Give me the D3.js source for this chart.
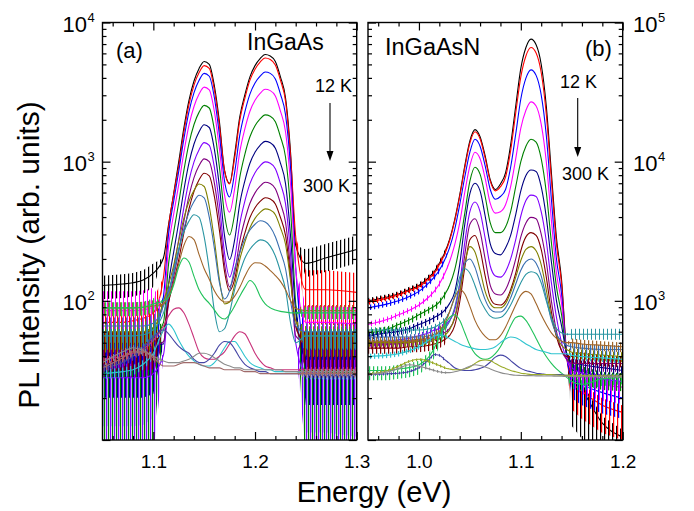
<!DOCTYPE html>
<html><head><meta charset="utf-8">
<script src="https://cdn.jsdelivr.net/npm/d3@7"></script>
<style>html,body{margin:0;padding:0;background:#fff;}svg{display:block;font-family:"Liberation Sans",Arial,Helvetica,sans-serif;}</style>
</head><body>
<script>
// ---------------- DATA: panel (a) InGaAs ----------------
const energyA = [1.05,1.07,1.08,1.09,1.10,1.11,1.115,1.12,1.125,1.13,1.135,1.14,1.145,1.15,1.155,1.16,1.165,1.17,1.175,1.18,1.185,1.19,1.195,1.20,1.205,1.21,1.215,1.22,1.225,1.23,1.235,1.24,1.25,1.27,1.30];
const a01 = [129,132,135,141,158,204,355,589,1000,1740,2750,3800,4680,5250,5010,3510,1930,870,700,1135,2100,3020,4070,4900,5500,5890,5750,5250,4070,2880,1150,250,186,204,234];
const a02 = [70,70,72,75,82,148,342,580,933,1620,2570,3550,4365,4900,4680,3275,1800,860,693,1065,1980,2850,3850,4620,5190,5560,5430,4950,3850,2720,1080,290,120,120,115];
const a03 = [50,50,50,51,57,108,303,519,853,1450,2280,3130,3840,4310,4110,2890,1550,727,558,840,1550,2280,3060,3670,4110,4410,4310,3930,3060,2180,890,175,45,45,42];
const a04 = [85,85,85,86,90,94,249,420,686,1160,1820,2490,3060,3430,3280,2300,1240,577,434,640,1175,1720,2305,2760,3095,3310,3240,2960,2305,1640,680,170,70,70,68];
const a05 = [50,50,50,50,54,70,185,312,509,862,1350,1850,2270,2540,2430,1700,915,417,297,423,771,1130,1510,1810,2030,2170,2120,1935,1510,1080,447,96,35,35,35];
const a06 = [45,45,45,45,48,49,132,224,367,623,975,1340,1640,1840,1760,1230,659,294,198,275,499,728,975,1170,1310,1400,1370,1250,975,696,289,83,40,40,40];
const a07 = [28,28,28,28,30,41,103,171,277,467,728,997,1220,1370,1310,911,492,221,148,201,359,521,696,833,932,997,975,891,696,499,211,50,30,30,30];
const a08 = [45,45,45,45,47,51,97,149,228,370,566,768,937,1047,1001,703,389,184,126,160,269,382,503,597,666,711,696,638,503,366,167,56,50,50,50];
const a09 = [50,50,50,50,51,62,98,137,198,307,457,612,742,826,791,563,321,163,118,143,224,307,397,467,518,551,540,497,397,295,148,65,50,50,50];
const a10 = [60,60,60,60,63,99,131,180,269,391,517,622,691,663,477,274,142,95,98,131,198,264,335,391,432,458,449,415,335,255,138,72,56,56,56];
const a11 = [66,66,66,66,69,92,118,158,230,329,432,517,573,550,399,239,135,103,118,170,222,279,323,355,376,369,339,289,226,170,99,66,60,60,60];
const a12 = [56,56,56,57,62,82,111,164,237,312,374,415,398,288,167,85,60,63,82,121,160,202,235,259,274,269,247,210,163,121,69,50,56,56,56];
const a13 = [89,89,89,90,92,95,110,135,185,250,290,275,215,170,143,118,104,98,99,108,125,150,175,188,187,178,165,152,138,120,100,88,85,85,85];
const a14 = [89,89,89,90,95,100,106,130,175,203,190,150,120,105,96,86,77,74,80,92,108,125,140,130,108,95,89,86,84,83,82,82,82,82,82];
const a15 = [30,31,32,35,42,62,68,62,52,45,40,37,35,34,34,36,40,46,51,51,46,40,36,34,33,32,32,31,31,31,31,31,30,30,30];
const a16 = [38,40,42,45,52,66,78,87,89,82,68,54,43,39,38,38,40,43,49,56,60,58,50,42,37,34,33,32,32,32,32,32,32,32,32];
const a17 = [33,36,40,46,55,62,58,52,47,44,42,38,36,36,38,42,48,51,50,45,39,35,33,32,31,31,30,30,30,30,30,30,30,29,29];
const a18 = [36,43,46,44,40,37,36,36,36,37,38,40,42,42,41,39,37,35,34,33,33,32,32,32,32,32,32,32,32,31,31,31,31,31,31];
const a19 = [33,39,43,43,39,34,34,34,35,36,36,36,35,34,33,33,33,32,32,32,32,31,31,31,30,30,30,30,30,30,30,30,30,30,30];
const seriesA = [a01,a02,a03,a04,a05,a06,a07,a08,a09,a10,a11,a12,a13,a14,a15,a16,a17,a18,a19];
// noise spread (log10: down, up), outside the clean window
const windowA = [1.105, 1.245];
const noiseDownLeftA  = [0.10,0.30,0.60,0.30,0.80,0.35,0.60,0.20,0.20,0.15,0.12,0.10,0.06,0.06,0.04,0.03,0.03,0.03,0.03];
const noiseUpLeftA    = [0.07,0.10,0.10,0.14,0.08,0.08,0.10,0.08,0.08,0.07,0.06,0.05,0.04,0.04,0.03,0.02,0.02,0.02,0.02];
const noiseDownRightA = [0.10,0.25,0.60,0.30,0.80,0.35,0.60,0.20,0.20,0.15,0.12,0.10,0.06,0.05,0.04,0.03,0.03,0.03,0.03];
const noiseUpRightA   = [0.10,0.14,0.10,0.12,0.08,0.08,0.10,0.08,0.08,0.07,0.06,0.05,0.04,0.04,0.03,0.02,0.02,0.02,0.02];

// ---------------- DATA: panel (b) InGaAsN ----------------
const energyB = [0.95,0.97,0.98,0.99,1.00,1.01,1.015,1.02,1.025,1.03,1.035,1.04,1.045,1.05,1.055,1.06,1.065,1.07,1.075,1.08,1.085,1.09,1.095,1.10,1.105,1.11,1.115,1.12,1.125,1.13,1.135,1.14,1.145,1.15,1.16,1.18,1.20];
const b01 = [1000,1070,1120,1200,1290,1480,1620,1860,2190,2750,3800,5750,9330,14100,17000,15100,11000,7410,6310,6920,8320,13200,25100,46800,66100,75900,69200,50100,25100,8320,2820,1410,417,282,229,132,105];
const b02 = [977,1050,1100,1180,1260,1450,1580,1820,2140,2690,3720,5620,9020,13600,16400,14600,10600,7240,6170,6610,7760,12000,22400,40700,57500,66100,60300,43700,21900,7410,2570,1320,398,263,224,178,158];
const b03 = [891,955,1000,1070,1170,1350,1480,1660,1950,2400,3240,4900,7760,11700,14500,12900,9330,6310,5370,5620,6310,9120,15800,28200,39800,45700,41700,30200,15500,5370,2000,1120,398,282,251,219,200];
const b04 = [676,741,794,851,933,1070,1170,1320,1550,1910,2510,3630,6030,9330,11700,10500,7590,5010,4270,4370,4900,6610,10500,17400,23400,26900,25100,18600,10000,3800,1580,955,398,316,282,251,240];
const b05 = [589,631,676,724,794,871,912,977,1100,1290,1660,2510,4270,7240,9120,8130,5620,3630,3090,3090,3390,4370,6610,10000,12900,14500,13800,10500,6030,2630,1260,794,417,355,316,288,282];
const b06 = [562,589,603,631,676,724,759,794,851,955,1150,1820,3550,5890,7000,6170,4070,2570,2190,2140,2400,2950,4170,6170,7940,8710,8510,6610,3980,1910,1000,661,417,363,347,331,316];
const b07 = [501,513,525,537,562,589,617,631,661,724,851,1320,2630,4370,5130,4370,2820,1780,1510,1480,1620,2000,2750,4070,5250,5750,5620,4370,2690,1350,759,501,380,331,302,275,263];
const b08 = [479,490,490,501,513,537,550,562,589,631,741,1120,2140,3550,3890,3160,2000,1290,1120,1100,1200,1480,2000,2880,3630,3980,3890,3020,1910,1000,603,437,380,355,355,355,355];
const b09 = [457,457,457,468,468,479,490,501,525,562,661,977,1740,2750,2950,2340,1510,1050,944,933,1000,1200,1580,2290,2880,3090,2950,2340,1480,832,550,437,398,398,398,380,372];
const b10 = [501,501,501,501,513,513,525,537,562,617,759,1150,1860,2450,2240,1660,1170,955,891,891,955,1150,1480,1950,2340,2450,2290,1820,1200,759,562,479,447,427,417,407,398];
const b11 = [550,550,550,550,550,562,575,589,631,708,891,1320,1860,2000,1740,1320,1020,871,832,832,891,1050,1320,1660,1910,2000,1860,1510,1050,724,575,513,479,468,457,447,447];
const b12 = [617,617,617,617,617,631,646,676,724,832,1070,1480,1700,1580,1290,1020,871,776,750,759,813,933,1120,1350,1550,1620,1580,1350,1000,759,631,589,575,575,575,575,575];
const b13 = [513,513,513,513,525,537,562,603,676,832,1050,1200,1120,912,724,617,556,525,525,562,646,776,933,1100,1170,1120,955,794,676,589,537,513,501,501,490,479,468];
const b14 = [316,316,324,331,347,398,457,550,661,759,794,724,589,479,417,389,380,389,417,468,550,661,759,776,724,631,537,457,398,355,324,302,282,263,251,275,282];
const b15 = [398,407,417,437,468,525,556,569,562,537,513,490,473,462,452,447,447,452,468,501,531,550,543,519,490,468,447,437,427,417,417,417,417,407,398,389,380];
const b16 = [295,299,302,309,331,380,412,407,380,355,331,320,316,316,320,327,339,363,394,407,398,372,347,327,316,309,302,299,295,295,295,295,292,292,292,290,290];
const b17 = [299,316,339,367,380,367,355,343,331,324,320,320,324,335,355,372,376,372,355,339,327,316,309,302,299,295,295,295,295,295,293,292,292,291,290,289,288];
const b18 = [295,309,327,347,339,324,316,309,305,305,309,316,327,339,347,343,335,324,313,305,299,295,292,291,290,290,289,289,288,288,287,287,286,286,285,285,285];
const seriesB = [b01,b02,b03,b04,b05,b06,b07,b08,b09,b10,b11,b12,b13,b14,b15,b16,b17,b18];
const windowB = [1.03, 1.145];
const noiseDownLeftB  = [0.02,0.02,0.02,0.02,0.03,0.03,0.03,0.03,0.04,0.03,0.03,0.03,0.04,0.07,0.02,0.01,0.01,0.01];
const noiseUpLeftB    = [0.02,0.02,0.02,0.02,0.02,0.02,0.02,0.02,0.03,0.02,0.02,0.02,0.03,0.03,0.02,0.01,0.01,0.01];
const noiseDownRightB = [0.35,0.20,0.15,0.12,0.10,0.06,0.08,0.06,0.05,0.04,0.04,0.04,0.04,0.05,0.03,0.01,0.01,0.01];
const noiseUpRightB   = [0.05,0.05,0.04,0.04,0.03,0.03,0.03,0.03,0.03,0.03,0.03,0.04,0.03,0.03,0.02,0.01,0.01,0.01];

// tick values
const xMajorA = [1.1,1.2,1.3], xMinorA = [1.06,1.08,1.12,1.14,1.16,1.18,1.22,1.24,1.26,1.28];
const xMajorB = [1.0,1.1,1.2], xMinorB = [0.96,0.98,1.02,1.04,1.06,1.08,1.12,1.14,1.16,1.18];
const yMajorA = [10,100,1000,10000], yLabelA = [100,1000,10000];
const yMajorB = [100,1000,10000,100000], yLabelB = [1000,10000,100000];

// ---------------- STYLE ----------------
const colorsA = ["#000000","#ff0000","#0000ff","#ff00ff","#008000","#000080","#8000ff","#800080","#800000","#808000","#3a6fb0","#2a95a2","#a0652a","#21c25a","#2fc4cf","#c8327a","#4545a5","#8c8c8c","#a06a6a"];
const colorsB = ["#000000","#ff0000","#0000ff","#ff00ff","#008000","#000080","#8000ff","#800080","#800000","#808000","#3a6fb0","#2a95a2","#a0652a","#21c25a","#2fc4cf","#4545a5","#9aab2a","#8c8c8c"];

const W=694,H=511,TOP=22.5,BOT=440;
const svg=d3.select('body').append('svg').attr('width',W).attr('height',H);

const panels=[
 {id:'pa', x:d3.scaleLinear().domain([1.05,1.30]).range([102.5,356.7]), y:d3.scaleLog().domain([10,1e4]).range([BOT,TOP]),
  E:energyA, S:seriesA, C:colorsA, ND:[noiseDownLeftA,noiseDownRightA], NU:[noiseUpLeftA,noiseUpRightA], win:windowA, xMaj:xMajorA, xMin:xMinorA, yMaj:yMajorA, yLab:yLabelA, labSide:'left'},
 {id:'pb', x:d3.scaleLinear().domain([0.95,1.20]).range([368,622.7]), y:d3.scaleLog().domain([100,1e5]).range([BOT,TOP]),
  E:energyB, S:seriesB, C:colorsB, ND:[noiseDownLeftB,noiseDownRightB], NU:[noiseUpLeftB,noiseUpRightB], win:windowB, xMaj:xMajorB, xMin:xMinorB, yMaj:yMajorB, yLab:yLabelB, labSide:'right'}
];

const defs=svg.append('defs');
panels.forEach(p=>{
  const [x0,x1]=p.x.range();
  defs.append('clipPath').attr('id','clip-'+p.id).append('rect').attr('x',x0).attr('y',TOP).attr('width',x1-x0).attr('height',BOT-TOP);
  const g=svg.append('g').attr('clip-path',`url(#clip-${p.id})`);
  const line=d3.line().x(d=>p.x(d.e)).y(d=>p.y(d.v)).curve(d3.curveMonotoneX);
  const band=d3.area().x(d=>p.x(d.e)).y0(d=>p.y(d.v/Math.pow(10,d.dn))).y1(d=>p.y(d.v*Math.pow(10,d.up)));
  p.S.forEach((vals,i)=>{
    // vertical-stripe pattern to suggest the noisy spikes
    const pid=`pat-${p.id}-${i}`;
    const pat=defs.append('pattern').attr('id',pid).attr('patternUnits','userSpaceOnUse').attr('width',4).attr('height',4);
    pat.append('rect').attr('x',i%4).attr('y',0).attr('width',1.2).attr('height',4).attr('fill',p.C[i]);
    const pts=p.E.map((e,j)=>{
      const side = e<p.win[0]?0:(e>p.win[1]?1:-1);
      return {e:e, v:vals[j], dn: side<0?0:p.ND[side][i], up: side<0?0:p.NU[side][i]};
    });
    g.append('path').attr('d',band(pts)).attr('fill',`url(#${pid})`).attr('stroke','none');
    g.append('path').attr('d',line(pts)).attr('fill','none').attr('stroke',p.C[i]).attr('stroke-width',1.1);
  });

  // axes (ticks inward)
  const ax=(gen,tr)=>{const a=svg.append('g').attr('transform',tr).call(gen); a.select('.domain').remove(); a.selectAll('line').attr('stroke','#000').attr('stroke-width',1.2); return a;};
  const bx=ax(d3.axisBottom(p.x).tickValues(p.xMaj).tickSize(-8).tickPadding(14.5).tickFormat(d3.format('.1f')),`translate(0,${BOT})`);
  bx.attr('font-size',19).attr('font-family','"Liberation Sans",Arial,sans-serif');
  bx.selectAll('text').attr('fill','#000');
  ax(d3.axisBottom(p.x).tickValues(p.xMin).tickSize(-4).tickFormat(''),`translate(0,${BOT})`);
  ax(d3.axisTop(p.x).tickValues(p.xMaj).tickSize(-8).tickFormat(''),`translate(0,${TOP})`);
  ax(d3.axisTop(p.x).tickValues(p.xMin).tickSize(-4).tickFormat(''),`translate(0,${TOP})`);
  const yMin=[]; p.yMaj.slice(0,-1).forEach(d=>{for(let k=2;k<=9;k++) yMin.push(k*d);});
  ax(d3.axisLeft(p.y).tickValues(p.yMaj).tickSize(-8).tickFormat(''),`translate(${x0},0)`);
  ax(d3.axisLeft(p.y).tickValues(yMin).tickSize(-4).tickFormat(''),`translate(${x0},0)`);
  ax(d3.axisRight(p.y).tickValues(p.yMaj).tickSize(-8).tickFormat(''),`translate(${x1},0)`);
  ax(d3.axisRight(p.y).tickValues(yMin).tickSize(-4).tickFormat(''),`translate(${x1},0)`);

  svg.append('rect').attr('x',x0).attr('y',TOP).attr('width',x1-x0).attr('height',BOT-TOP).attr('fill','none').attr('stroke','#000').attr('stroke-width',1.4);

  // y labels 10^n
  p.yLab.forEach(v=>{
    const yy=p.y(v)+9.5, ex=Math.round(Math.log10(v));
    if(p.labSide==='left'){
      svg.append('text').attr('x',87).attr('y',yy).attr('text-anchor','end').attr('font-size',22).text('10');
      svg.append('text').attr('x',87.5).attr('y',yy-10).attr('font-size',13).text(ex);
    } else {
      svg.append('text').attr('x',633).attr('y',yy).attr('font-size',22).text('10');
      svg.append('text').attr('x',658).attr('y',yy-10).attr('font-size',13).text(ex);
    }
  });
});

// annotations
const txt=(x,y,s,fs,anchor)=>svg.append('text').attr('x',x).attr('y',y).attr('font-size',fs).attr('text-anchor',anchor||'start').attr('fill','#000').text(s);
txt(116,58,'(a)',22);
txt(247,50,'InGaAs',23);
txt(315,92,'12 K',18);
txt(303,192,'300 K',18);
txt(385,55,'InGaAsN',23.5);
txt(585,56,'(b)',22);
txt(560,88,'12 K',18);
txt(562,180,'300 K',18);
const arrow=(x,y1,y2)=>{
  svg.append('line').attr('x1',x).attr('x2',x).attr('y1',y1).attr('y2',y2-8).attr('stroke','#000').attr('stroke-width',1.1);
  svg.append('path').attr('d',`M${x-3.5},${y2-10}L${x+3.5},${y2-10}L${x},${y2}Z`).attr('fill','#000');
};
arrow(330,103,161);
arrow(577.7,98,157);

svg.append('text').attr('transform','translate(39,255) rotate(-90)').attr('text-anchor','middle').attr('font-size',30).attr('fill','#000').text('PL Intensity (arb. units)');
svg.append('text').attr('x',374).attr('y',502).attr('text-anchor','middle').attr('font-size',29).attr('fill','#000').text('Energy (eV)');
</script>
</body></html>
